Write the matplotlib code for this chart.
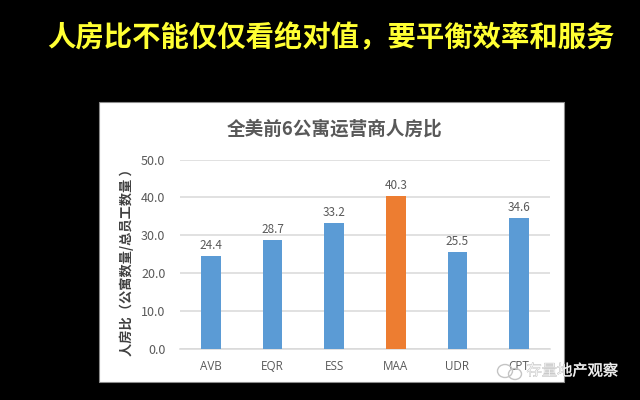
import matplotlib
matplotlib.use("Agg")
import matplotlib.pyplot as plt
import matplotlib.patheffects as pe
from matplotlib.patches import Rectangle, Ellipse

plt.rcParams['font.family'] = ['Noto Sans CJK SC', 'DejaVu Sans']

# data
companies = ['AVB', 'EQR', 'ESS', 'MAA', 'UDR', 'CPT']
ratios = [24.4, 28.7, 33.2, 40.3, 25.5, 34.6]
bar_colors = ['#5b9bd5', '#5b9bd5', '#5b9bd5', '#ed7d31', '#5b9bd5', '#5b9bd5']
y_ticks = [0, 10, 20, 30, 40, 50]

W, H = 640, 400


def fx(px):
    return px / W


def fy(py):
    return 1 - py / H


fig = plt.figure(figsize=(6.4, 4), dpi=100, facecolor='black')

# white slide panel behind the chart
fig.patches.append(Rectangle((fx(99), fy(382)), 465 / W, 280 / H, transform=fig.transFigure,
                             facecolor='white', edgecolor='#8c8c8c', linewidth=0.8, zorder=-1))

fig.text(fx(47), fy(38), '人房比不能仅仅看绝对值，要平衡效率和服务', color='#ffff33',
         fontsize=20.4, fontweight='bold', va='center', ha='left')
fig.text(fx(335), fy(129), '全美前6公寓运营商人房比', color='#595959',
         fontsize=13.4, fontweight='bold', va='center', ha='center')

ax = fig.add_axes([fx(180), fy(348.7), 370 / W, 189.2 / H])
ax.patch.set_alpha(0)
bars = ax.bar(companies, ratios, width=0.314, color=bar_colors, zorder=3)
ax.set_xlim(-0.5, 5.5)
ax.set_ylim(0, 50)
ax.set_yticks(y_ticks)
ax.set_yticklabels([f'{v:.1f}' for v in y_ticks])
ax.grid(axis='y', color='#d9d9d9', linewidth=1.1, zorder=0)
ax.set_axisbelow(True)
for side in ['top', 'right', 'left']:
    ax.spines[side].set_visible(False)
ax.spines['bottom'].set_color('#d9d9d9')
ax.spines['bottom'].set_linewidth(1.1)
ax.tick_params(axis='both', length=0, labelsize=9, labelcolor='#595959')
ax.tick_params(axis='x', pad=15.5)
ax.tick_params(axis='y', pad=10.5)
# baseline alignment, and Open Sans has a shorter Q tail than the CJK font
for label in ax.get_xticklabels():
    label.set_verticalalignment('baseline')
    label.set_fontfamily('Open Sans')
    label.set_fontsize(8.4)
ax.bar_label(bars, labels=[f'{v:.1f}' for v in ratios], padding=3, fontsize=8.5, color='#595959')

fig.text(fx(127), fy(259.5), '人房比（公寓数量/总员工数量 ）', color='#404040', fontsize=9.5,
         fontweight='bold', rotation=90, va='center', ha='center')

# watermark over the lower right corner
fig.text(fx(618), fy(371), '存量地产观察', color='#f2f2f2', fontsize=11,
         va='center', ha='right', zorder=10,
         path_effects=[pe.withStroke(linewidth=0.4, foreground='#a6a6a6')])
fig.patches.append(Ellipse((fx(505), fy(371)), 15 / W, 13 / H, transform=fig.transFigure,
                           facecolor='none', edgecolor='#c4c4c4', linewidth=1.0, zorder=9))
fig.patches.append(Ellipse((fx(515), fy(374)), 13 / W, 11 / H, transform=fig.transFigure,
                           facecolor='none', edgecolor='#c4c4c4', linewidth=1.0, zorder=9))

fig.savefig('out.png', dpi=100, facecolor='black')
